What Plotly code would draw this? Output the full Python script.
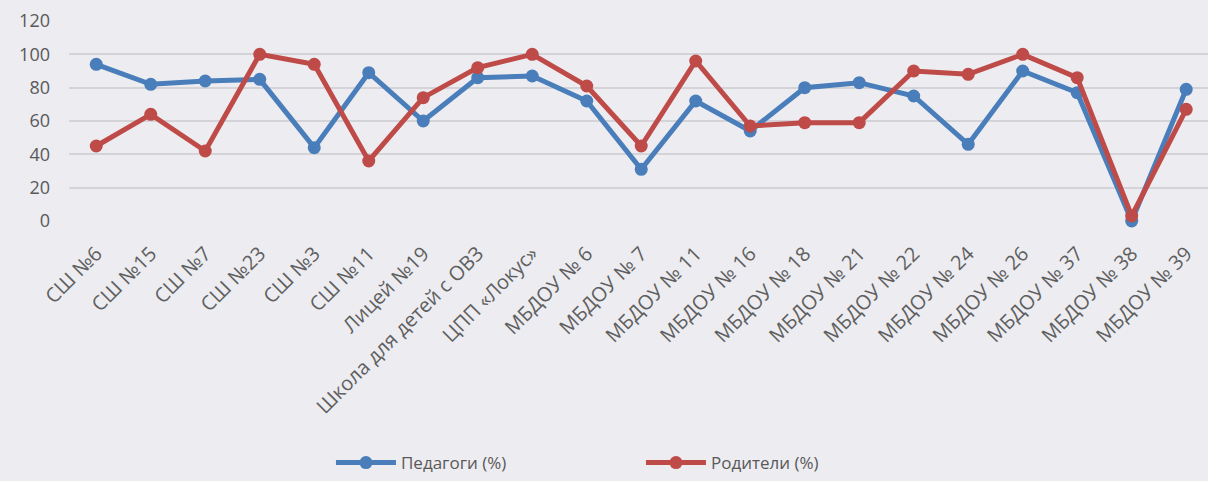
import plotly.graph_objects as go

categories = [
    "СШ №6", "СШ №15", "СШ №7", "СШ №23", "СШ №3", "СШ №11", "Лицей №19",
    "Школа для детей с ОВЗ", "ЦПП «Локус»", "МБДОУ № 6", "МБДОУ № 7",
    "МБДОУ № 11", "МБДОУ № 16", "МБДОУ № 18", "МБДОУ № 21", "МБДОУ № 22",
    "МБДОУ № 24", "МБДОУ № 26", "МБДОУ № 37", "МБДОУ № 38", "МБДОУ № 39",
]
teachers = [94, 82, 84, 85, 44, 89, 60, 86, 87, 72, 31, 72, 54, 80, 83, 75, 46, 90, 77, 0, 79]
parents = [45, 64, 42, 100, 94, 36, 74, 92, 100, 81, 45, 96, 57, 59, 59, 90, 88, 100, 86, 3, 67]
y_ticks = [0, 20, 40, 60, 80, 100, 120]

BLUE = "#4A7EBB"
RED = "#BE4B48"
BG = "#ECECF1"
FONT = "Open Sans"

fig = go.Figure()
for name, vals, color in [("Педагоги (%)", teachers, BLUE), ("Родители (%)", parents, RED)]:
    fig.add_trace(go.Scatter(
        x=categories, y=vals, name=name, mode="lines+markers",
        line=dict(color=color, width=5),
        marker=dict(color=color, size=13),
        cliponaxis=False,
    ))

fig.update_layout(
    width=1208, height=481,
    margin=dict(l=69, r=0, t=21, b=256),
    paper_bgcolor=BG, plot_bgcolor=BG,
    font=dict(family=FONT, color="#595959", size=17),
    showlegend=True,
    legend=dict(
        orientation="h", x=0.23, xanchor="left", y=-1.21, yanchor="middle",
        entrywidth=235, entrywidthmode="pixels",
        font=dict(size=17, color="#595959"), bgcolor="rgba(0,0,0,0)",
        itemwidth=60,
    ),
)
fig.update_xaxes(
    type="category", range=[-0.5, 20.4], tickangle=-45,
    showgrid=False, showline=False, ticks="", zeroline=False,
    ticklabelstandoff=16,
    tickfont=dict(size=20, color="#5F5F5F"),
)
fig.update_yaxes(
    range=[0, 120], tickvals=y_ticks, showgrid=True, gridcolor="#D4D4D8",
    gridwidth=1.5, zeroline=False, showline=False, ticks="",
    ticklabelstandoff=18,
    tickfont=dict(size=18, color="#595959"),
)

fig.write_html("out.html")
